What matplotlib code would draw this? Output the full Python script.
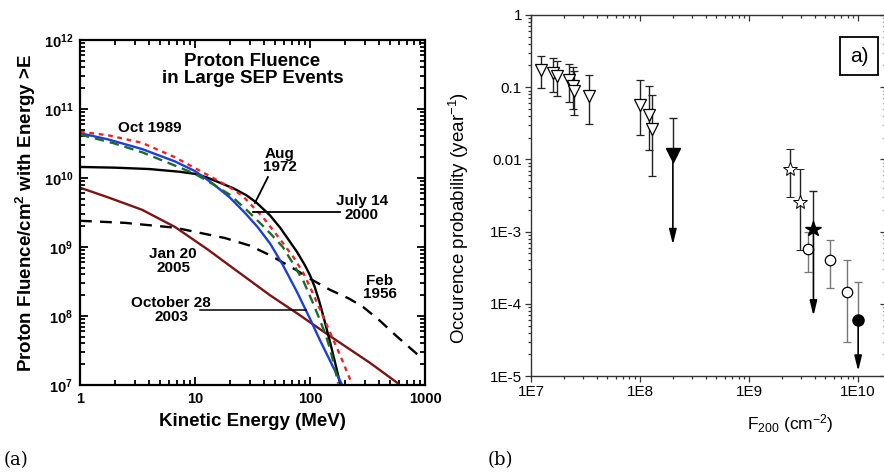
import numpy as np
import matplotlib
matplotlib.use("Agg")
import matplotlib.pyplot as plt
from matplotlib.ticker import LogLocator, NullFormatter

plt.rcParams['font.family'] = ['Liberation Sans', 'DejaVu Sans']
plt.rcParams['mathtext.fontset'] = 'custom'
plt.rcParams['mathtext.rm'] = 'Liberation Sans'
plt.rcParams['mathtext.bf'] = 'Liberation Sans:bold'
plt.rcParams['mathtext.it'] = 'Liberation Sans:italic'

# ---------------- Panel (a) data: proton fluence > E (log10 of fluence) ----------------
aug1972_E = [1, 2, 4, 7.4, 10, 12.6, 16, 21.6, 28, 34.4, 44.8, 55, 66.7, 77, 90, 100, 110, 120, 130, 149, 170, 185]
aug1972_logF = [10.16, 10.15, 10.13, 10.09, 10.06, 10.01, 9.94, 9.85, 9.75, 9.64, 9.46, 9.28, 9.08, 8.93,
                8.74, 8.59, 8.42, 8.22, 8.01, 7.63, 7.24, 6.98]

oct2003_E = [1, 1.75, 3.46, 6.7, 10, 14, 20, 27, 35, 45, 58, 77, 100, 122, 159, 188]
oct2003_logF = [10.65, 10.56, 10.42, 10.24, 10.10, 9.93, 9.72, 9.50, 9.29, 9.05, 8.74, 8.35, 7.96, 7.65,
                7.26, 7.02]

jul2000_E = [1, 2, 3.5, 6.7, 10, 14, 20, 28, 39.3, 48, 58, 70, 88, 106, 122, 136, 149, 162, 176]
jul2000_logF = [10.63, 10.50, 10.37, 10.18, 10.06, 9.92, 9.76, 9.54, 9.30, 9.15, 9.00, 8.78, 8.50, 8.19,
                7.94, 7.74, 7.53, 7.29, 7.02]

oct1989_E = [1, 1.75, 3.46, 6.7, 13, 19, 26, 39, 55, 72, 87, 100, 122, 139, 159, 182, 205, 230]
oct1989_logF = [10.67, 10.62, 10.51, 10.30, 10.04, 9.89, 9.74, 9.43, 9.11, 8.85, 8.63, 8.42, 8.10, 7.88,
                7.66, 7.44, 7.23, 7.03]

feb1956_E = [1, 2.46, 6.7, 18.2, 30, 45, 77, 100, 149, 220, 290, 400, 573, 920]
feb1956_logF = [9.38, 9.35, 9.28, 9.13, 9.02, 8.88, 8.66, 8.54, 8.38, 8.25, 8.13, 7.94, 7.70, 7.40]

jan2005_E = [1, 1.75, 3.46, 6.7, 13, 20, 45, 77, 149, 333, 587]
jan2005_logF = [9.86, 9.72, 9.54, 9.29, 8.96, 8.73, 8.30, 8.04, 7.71, 7.32, 7.02]

left_xticks = [1, 10, 100, 1000]
left_xticklabels = ['1', '10', '100', '1000']
left_yticks = [1e7, 1e8, 1e9, 1e10, 1e11, 1e12]
left_yticklabels = [r'$\mathbf{10^{7}}$', r'$\mathbf{10^{8}}$', r'$\mathbf{10^{9}}$',
                    r'$\mathbf{10^{10}}$', r'$\mathbf{10^{11}}$', r'$\mathbf{10^{12}}$']

# ---------------- Panel (b) data: occurrence probability ----------------
tri_F = [1.24e7, 1.6e7, 1.74e7, 2.23e7, 2.42e7, 2.5e7, 3.4e7, 9.9e7, 1.21e8, 1.3e8]
tri_P = [0.172, 0.158, 0.142, 0.125, 0.103, 0.089, 0.075, 0.0575, 0.0418, 0.0267]
tri_hi = [0.272, 0.25, 0.232, 0.209, 0.188, 0.168, 0.147, 0.125, 0.104, 0.077]
tri_lo = [0.098, 0.086, 0.075, 0.0625, 0.0506, 0.0418, 0.031, 0.0216, 0.0133, 0.0058]

ftri_F = [2.0e8]
ftri_P = [0.0114]
ftri_hi = [0.038]
ftri_tip = [6.6e-4]

star_F = [2.38e9, 2.94e9]
star_P = [7.26e-3, 2.61e-3]
star_hi = [0.0141, 7.26e-3]
star_lo = [3.0e-3, 5.6e-4]

fstar_F = [3.89e9]
fstar_P = [1.09e-3]
fstar_hi = [3.6e-3]
fstar_tip = [6.8e-5]

circ_F = [3.5e9, 5.53e9, 7.87e9]
circ_P = [5.75e-4, 4.04e-4, 1.47e-4]
circ_hi = [1.0e-3, 7.7e-4, 4.1e-4]
circ_lo = [2.72e-4, 1.65e-4, 2.96e-5]

fcirc_F = [1.0e10]
fcirc_P = [6.0e-5]
fcirc_hi = [1.98e-4]
fcirc_tip = [1.17e-5]

right_xticks = [1e7, 1e8, 1e9, 1e10]
right_xticklabels = ['1E7', '1E8', '1E9', '1E10']
right_yticks = [1, 0.1, 0.01, 1e-3, 1e-4, 1e-5]
right_yticklabels = ['1', '0.1', '0.01', '1E-3', '1E-4', '1E-5']

# ---------------- figure ----------------
W, H = 884, 473
fig = plt.figure(figsize=(W / 100, H / 100), dpi=100)

def box(l, t, r, b):
    return [l / W, 1 - b / H, (r - l) / W, (b - t) / H]

def pw(a):
    return 10.0 ** np.asarray(a)

# ---- Panel (a) ----
ax1 = fig.add_axes(box(80, 40, 425, 385))
ax1.set_xscale('log')
ax1.set_yscale('log')
ax1.set_xlim(1, 1000)
ax1.set_ylim(1e7, 1e12)

lw = 1.7
common = dict(solid_joinstyle='round', dash_joinstyle='round')
ax1.plot(feb1956_E, pw(feb1956_logF), color='black', lw=lw, ls=(0, (5, 3.5)), **common)
ax1.plot(jan2005_E, pw(jan2005_logF), color='#7b1414', lw=lw, **common)
ax1.plot(aug1972_E, pw(aug1972_logF), color='black', lw=lw, **common)
ax1.plot(oct2003_E, pw(oct2003_logF), color='#1c3fd6', lw=lw, **common)
ax1.plot(jul2000_E, pw(jul2000_logF), color='#1d6b2a', lw=lw, ls=(0, (4, 2.5)), **common)
ax1.plot(oct1989_E, pw(oct1989_logF), color='#ee2222', lw=lw, ls=(0, (2, 2)), **common)

ax1.set_xticks(left_xticks)
ax1.set_xticklabels(left_xticklabels)
ax1.set_yticks(left_yticks)
ax1.set_yticklabels(left_yticklabels)
ax1.xaxis.set_minor_locator(LogLocator(base=10, subs=np.arange(2, 10), numticks=20))
ax1.yaxis.set_minor_locator(LogLocator(base=10, subs=np.arange(2, 10), numticks=20))
ax1.xaxis.set_minor_formatter(NullFormatter())
ax1.yaxis.set_minor_formatter(NullFormatter())
ax1.tick_params(which='both', direction='in', top=True, right=True, width=1.3)
ax1.tick_params(which='major', length=6, labelsize=10.5, pad=5)
ax1.tick_params(which='minor', length=3.5)
for lab in ax1.get_xticklabels():
    lab.set_fontweight('bold')
for s in ax1.spines.values():
    s.set_linewidth(1.6)

ax1.set_xlabel('Kinetic Energy (MeV)', fontsize=13.5, fontweight='bold', labelpad=5)
ax1.set_ylabel(r'Proton Fluence/cm$^{\mathbf{2}}$ with Energy >E', fontsize=13.5,
               fontweight='bold', labelpad=4)

ax1.text(0.5, 0.913, 'Proton Fluence\nin Large SEP Events', transform=ax1.transAxes,
         ha='center', va='center', fontsize=13.5, fontweight='bold', linespacing=1.05)

tk = dict(fontsize=11, fontweight='bold', ha='center', va='center', linespacing=0.95)
ax1.text(4.06, 5.3e10, 'Oct 1989', **tk)
ax1.text(54.8, 1.8e10, 'Aug\n1972', **tk)
ax1.text(283, 3.67e9, 'July 14\n2000', **tk)
ax1.text(6.44, 6.3e8, 'Jan 20\n2005', **tk)
ax1.text(6.2, 1.22e8, 'October 28\n2003', **tk)
ax1.text(406, 2.6e8, 'Feb\n1956', **tk)

ax1.plot([43.1, 33.2], [10 ** 10.014, 10 ** 9.638], color='black', lw=1.3)
ax1.plot([31.9, 182], [10 ** 9.507, 10 ** 9.507], color='black', lw=1.3)
ax1.plot([11.0, 92.3], [10 ** 8.087, 10 ** 8.087], color='black', lw=1.1)

fig.text(4 / W, 1 - 460 / H, '(a)', family='DejaVu Serif', fontsize=13, va='center', ha='left')

# ---- Panel (b) ----
ax2 = fig.add_axes(box(531, 15, 886, 376))
ax2.set_xscale('log')
ax2.set_yscale('log')
xlim2 = (1e7, 1.8e10)
ylim2 = (1e-5, 1)
ax2.set_xlim(*xlim2)
ax2.set_ylim(*ylim2)

ek = dict(ecolor='#222222', elinewidth=1.0, capsize=2.8, capthick=1.0, ls='none')

def yerr(P, lo, hi):
    return [np.array(P) - np.array(lo), np.array(hi) - np.array(P)]

ax2.errorbar(tri_F, tri_P, yerr=yerr(tri_P, tri_lo, tri_hi), marker='v', ms=9,
             mfc='white', mec='black', mew=0.9, **ek)
ax2.errorbar(star_F, star_P, yerr=yerr(star_P, star_lo, star_hi), marker='*', ms=10.5,
             mfc='white', mec='black', mew=0.7, **ek)
ek_g = dict(ek)
ek_g['ecolor'] = '#777777'
ax2.errorbar(circ_F, circ_P, yerr=yerr(circ_P, circ_lo, circ_hi), marker='o', ms=7.5,
             mfc='white', mec='black', mew=0.9, **ek_g)

def upper(F, P, hi, tip, marker, ms, ecolor):
    ax2.errorbar(F, P, yerr=[np.zeros(len(P)), np.array(hi) - np.array(P)], marker='none',
                 ecolor=ecolor, elinewidth=1.0, capsize=2.8, capthick=1.0, ls='none')
    for f, p, t in zip(F, P, tip):
        ax2.annotate('', xy=(f, t), xytext=(f, p),
                     arrowprops=dict(arrowstyle='-|>,head_length=0.9,head_width=0.22',
                                     color='black', lw=1.2, shrinkA=0, shrinkB=0))
    ax2.plot(F, P, ls='none', marker=marker, ms=ms, mfc='black', mec='black', zorder=5)

upper(ftri_F, ftri_P, ftri_hi, ftri_tip, 'v', 10.5, '#222222')
upper(fstar_F, fstar_P, fstar_hi, fstar_tip, '*', 11.5, '#222222')
upper(fcirc_F, fcirc_P, fcirc_hi, fcirc_tip, 'o', 8, '#777777')

ax2.set_xticks(right_xticks)
ax2.set_xticklabels(right_xticklabels)
ax2.set_yticks(right_yticks)
ax2.set_yticklabels(right_yticklabels)
ax2.xaxis.set_minor_locator(LogLocator(base=10, subs=np.arange(2, 10), numticks=20))
ax2.yaxis.set_minor_locator(LogLocator(base=10, subs=np.arange(2, 10), numticks=20))
ax2.xaxis.set_minor_formatter(NullFormatter())
ax2.yaxis.set_minor_formatter(NullFormatter())
ax2.tick_params(which='both', direction='out', color='#333333', width=0.9)
ax2.tick_params(which='major', length=4.5, labelsize=11, pad=2)
ax2.tick_params(which='minor', length=2.5)
for s in ax2.spines.values():
    s.set_linewidth(1.0)
    s.set_color('#333333')

# inward ticks on top and right
axt = ax2.twiny()
axt.set_xscale('log')
axt.set_xlim(*xlim2)
axt.set_xticks(right_xticks)
axt.xaxis.set_minor_locator(LogLocator(base=10, subs=np.arange(2, 10), numticks=20))
axt.tick_params(which='both', direction='in', labeltop=False, color='#333333', width=0.9)
axt.tick_params(which='major', length=4.5)
axt.tick_params(which='minor', length=2.5)
axr = ax2.twinx()
axr.set_yscale('log')
axr.set_ylim(*ylim2)
axr.set_yticks(right_yticks)
axr.yaxis.set_minor_locator(LogLocator(base=10, subs=np.arange(2, 10), numticks=20))
axr.tick_params(which='both', direction='in', labelright=False, color='#333333', width=0.9)
axr.tick_params(which='major', length=4.5)
axr.tick_params(which='minor', length=2.5)
for a in (axt, axr):
    for s in a.spines.values():
        s.set_visible(False)

ax2.set_xlabel(r'F$_{200}$ (cm$^{-2}$)', fontsize=12.5, labelpad=5)
ax2.xaxis.set_label_coords((790 - 531) / 355, -0.1)
ax2.set_ylabel(r'Occurence probability (year$^{-1}$)', fontsize=13.5, labelpad=3)
ax2.yaxis.set_label_coords(-(531 - 471) / 355, (376 - 218) / 361)

ax2.text(859 / W, 1 - 56 / H, 'a)', transform=fig.transFigure, fontsize=15,
         ha='center', va='center',
         bbox=dict(boxstyle='square,pad=0.45', fc='white', ec='black', lw=1.3))

fig.text(488 / W, 1 - 460 / H, '(b)', family='DejaVu Serif', fontsize=13, va='center', ha='left')

fig.savefig('out.png', dpi=100)
